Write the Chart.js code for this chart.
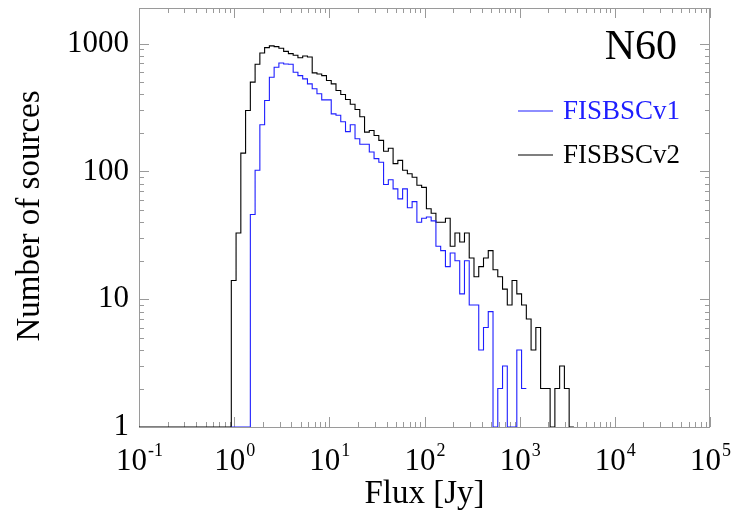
<!DOCTYPE html>
<html>
<head>
<meta charset="utf-8">
<script src="https://cdn.jsdelivr.net/npm/chart.js@4.4.1/dist/chart.umd.min.js"></script>
<style>
  html, body { margin: 0; padding: 0; background: #fff; }
  #wrap { width: 731px; height: 515px; }
</style>
</head>
<body>
<div id="wrap"><canvas id="fluxChart" width="731" height="515"></canvas></div>
<script>
// histogram bins in log10(flux), 0.05 dex wide
const binStart = -0.03;
const binWidth = 0.05;

// counts per bin, FISBSCv1 (blue) and FISBSCv2 (black)
const countsV1 = [0, 0, 0, 0, 46, 102, 232, 359, 545, 653, 706, 693, 690, 597, 562, 530, 484, 443, 405, 363,
    363, 282, 275, 245, 205, 232, 180, 163, 163, 142, 126, 118, 79, 86, 73, 61, 73, 52, 58, 40,
    43, 44, 41, 26, 24, 18, 23, 20, 11, 20, 9, 9, 4, 6, 8, 0, 2, 3, 0, 0, 4, 2];
const countsV2 = [14, 33, 139, 300, 500, 690, 845, 930, 960, 948, 920, 870, 835, 810, 775, 800, 785, 590, 578, 562,
    514, 484, 430, 400, 365, 335, 305, 268, 203, 209, 191, 175, 144, 152, 115, 122, 102, 96, 90, 78,
    75, 51, 47, 40, 40, 43, 26, 33, 28, 33, 21, 15, 18, 21, 24, 17, 15, 12, 9, 14,
    11, 9, 7, 4, 6, 2, 2, 0, 2, 3, 2, 0];

const seriesNames = ['FISBSCv1', 'FISBSCv2'];
const seriesColors = ['#1e1eff', '#000000'];

const xMin = 0.1, xMax = 1e5;
const yMin = 1, yMax = 1900;
const xTicks = [0.1, 1, 10, 100, 1000, 10000, 100000];
const xTickExp = ['-1', '0', '1', '2', '3', '4', '5'];
const yTicks = [1, 10, 100, 1000];
const yTickLabels = ['1', '10', '100', '1000'];

const serif = "'Liberation Serif', 'Times New Roman', serif";

// left edge of every bin, plus the closing edge; empty bins sit on the floor
function histSteps(counts, leadFrom) {
    const pts = [];
    if (leadFrom) pts.push({ x: leadFrom, y: yMin });
    counts.forEach((c, k) => {
        pts.push({ x: Math.pow(10, binStart + k * binWidth), y: Math.max(c, yMin) });
    });
    const last = counts[counts.length - 1];
    pts.push({ x: Math.pow(10, binStart + counts.length * binWidth), y: Math.max(last, yMin) });
    return pts;
}

const frameAndLabels = {
    id: 'frameAndLabels',
    beforeDatasetsDraw(chart) {
        const { ctx, chartArea: a, scales: { x, y } } = chart;
        ctx.save();
        ctx.strokeStyle = '#9a9a9a';
        ctx.lineWidth = 1;
        ctx.strokeRect(a.left + 0.5, a.top + 0.5, a.right - a.left - 1, a.bottom - a.top);
        ctx.beginPath();
        for (let d = -1; d <= 5; d++) {
            for (let m = 1; m <= 9; m++) {
                const v = m * Math.pow(10, d);
                if (v < xMin || v > xMax) continue;
                const px = Math.round(x.getPixelForValue(v)) + 0.5;
                const len = m === 1 ? 10 : 5;
                ctx.moveTo(px, a.bottom); ctx.lineTo(px, a.bottom - len);
                ctx.moveTo(px, a.top); ctx.lineTo(px, a.top + len);
            }
        }
        for (let d = 0; d <= 3; d++) {
            for (let m = 1; m <= 9; m++) {
                const v = m * Math.pow(10, d);
                if (v < yMin || v > yMax) continue;
                const py = Math.round(y.getPixelForValue(v)) + 0.5;
                const len = m === 1 ? 10 : 5;
                ctx.moveTo(a.left, py); ctx.lineTo(a.left + len, py);
                ctx.moveTo(a.right, py); ctx.lineTo(a.right - len, py);
            }
        }
        ctx.stroke();
        ctx.restore();
    },
    afterDraw(chart) {
        const { ctx, chartArea: a, scales: { x, y } } = chart;
        ctx.save();
        ctx.fillStyle = '#000';

        // y tick labels
        ctx.font = '31px ' + serif;
        ctx.textAlign = 'right';
        ctx.textBaseline = 'middle';
        yTicks.forEach((v, i) => {
            ctx.fillText(yTickLabels[i], a.left - 10, y.getPixelForValue(v));
        });

        // x tick labels as 10 with superscript
        ctx.textAlign = 'left';
        ctx.textBaseline = 'alphabetic';
        xTicks.forEach((v, i) => {
            ctx.font = '31px ' + serif;
            const wBase = ctx.measureText('10').width;
            ctx.font = '18px ' + serif;
            const wExp = ctx.measureText(xTickExp[i]).width;
            const left = x.getPixelForValue(v) - (wBase + wExp) / 2;
            ctx.font = '31px ' + serif;
            ctx.fillText('10', left, 470);
            ctx.font = '18px ' + serif;
            ctx.fillText(xTickExp[i], left + wBase + 1, 456);
        });

        // axis titles
        ctx.font = '33px ' + serif;
        ctx.textAlign = 'center';
        ctx.fillText('Flux [Jy]', (a.left + a.right) / 2, 503);
        ctx.save();
        ctx.translate(39, 216);
        ctx.rotate(-Math.PI / 2);
        ctx.fillText('Number of sources', 0, 0);
        ctx.restore();

        // panel label
        ctx.font = '42px ' + serif;
        ctx.textAlign = 'right';
        ctx.fillText('N60', 677, 59);

        // legend
        ctx.font = '27px ' + serif;
        ctx.textAlign = 'left';
        ctx.textBaseline = 'middle';
        const legendY = [111, 155];
        seriesNames.forEach((name, i) => {
            ctx.strokeStyle = seriesColors[i];
            ctx.lineWidth = 1.2;
            ctx.beginPath();
            ctx.moveTo(518, legendY[i]);
            ctx.lineTo(553, legendY[i]);
            ctx.stroke();
            ctx.fillStyle = seriesColors[i];
            ctx.fillText(name, 563, legendY[i] + 1);
        });
        ctx.restore();
    }
};

new Chart(document.getElementById('fluxChart'), {
    type: 'line',
    data: {
        datasets: [{
            label: seriesNames[0],
            data: histSteps(countsV1, null),
            borderColor: seriesColors[0],
            borderWidth: 1.1,
            stepped: 'before',
            pointRadius: 0,
            fill: false
        }, {
            label: seriesNames[1],
            data: histSteps(countsV2, xMin),
            borderColor: seriesColors[1],
            borderWidth: 1.1,
            stepped: 'before',
            pointRadius: 0,
            fill: false
        }]
    },
    options: {
        responsive: false,
        animation: false,
        layout: { padding: { left: 139, right: 21, top: 8, bottom: 88 } },
        plugins: {
            legend: { display: false },
            tooltip: { enabled: false }
        },
        scales: {
            x: { type: 'logarithmic', min: xMin, max: xMax, display: false },
            y: { type: 'logarithmic', min: yMin, max: yMax, display: false }
        }
    },
    plugins: [frameAndLabels]
});
</script>
</body>
</html>
